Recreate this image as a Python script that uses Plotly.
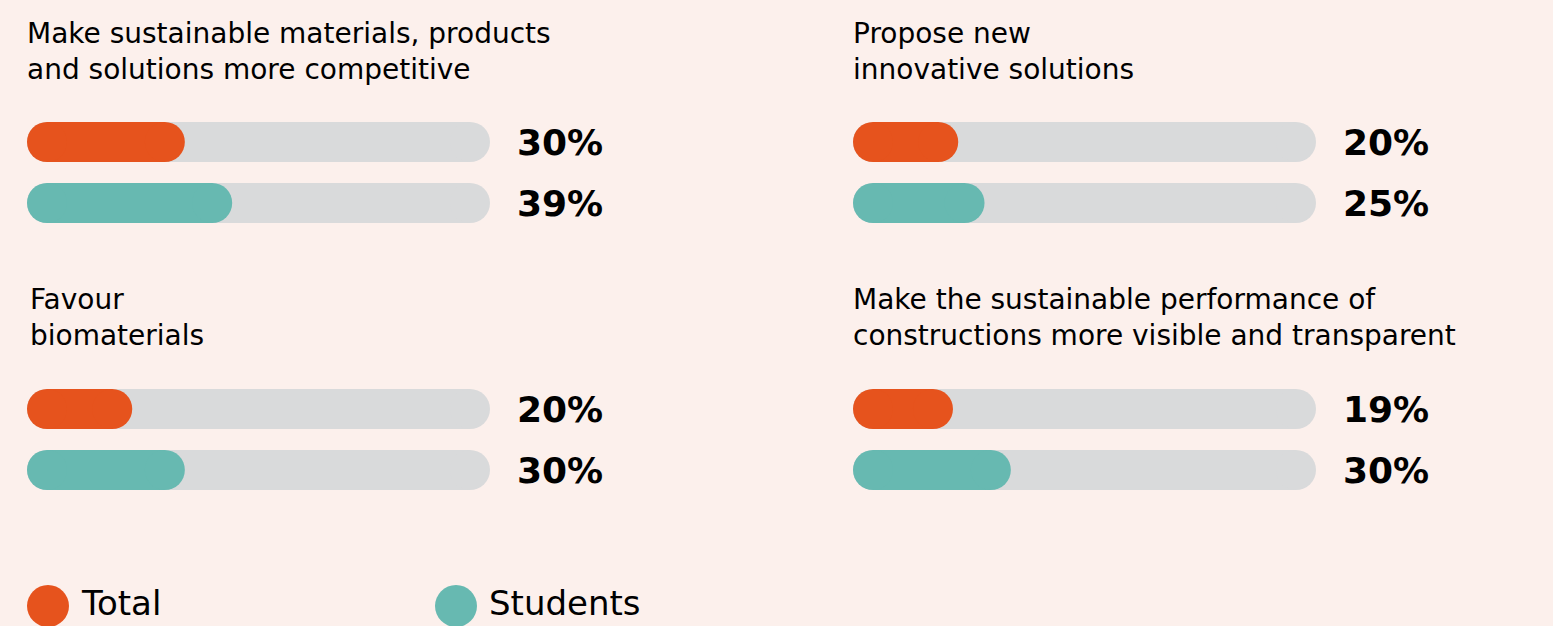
import plotly.graph_objects as go
from plotly.subplots import make_subplots

# data
titles = [
    "Make sustainable materials, products<br>and solutions more competitive",
    "Propose new<br>innovative solutions",
    "Favour<br>biomaterials",
    "Make the sustainable performance of<br>constructions more visible and transparent",
]
total = [30, 20, 20, 19]
students = [39, 25, 30, 30]
series_names = ["Total", "Students"]
track_max = 88  # length of the grey track, in % units

orange = "#E6531D"
teal = "#67B9B1"
grey = "#D9DADB"
bg = "#FCF0EC"
W, H = 1553, 626

fig = make_subplots(rows=2, cols=2)

# pixel layout of the panels (left x of track, top y of the bar block)
panel_x = [27, 853, 27, 853]
panel_y = [111.5, 111.5, 378.5, 378.5]
track_w = 463
block_h = 122
thick = 40
r = thick / 2 / track_w * track_max  # cap radius in data units


def pill(v, row, color):
    # rounded bar: thick line between the two cap centres + round caps
    return go.Scatter(x=[r, v - r], y=[row, row], mode="lines+markers",
                      line=dict(color=color, width=thick),
                      marker=dict(color=color, size=thick, line=dict(width=0)),
                      hoverinfo="skip", showlegend=False)


for i in range(4):
    rr, c = i // 2 + 1, i % 2 + 1
    fig.add_trace(pill(track_max, 0, grey), row=rr, col=c)
    fig.add_trace(pill(track_max, 1, grey), row=rr, col=c)
    fig.add_trace(pill(total[i], 0, orange), row=rr, col=c)
    fig.add_trace(pill(students[i], 1, teal), row=rr, col=c)

    x0 = panel_x[i] / W
    x1 = (panel_x[i] + track_w) / W
    y_top = 1 - panel_y[i] / H
    y_bot = 1 - (panel_y[i] + block_h) / H
    fig.update_xaxes(domain=[x0, x1], range=[0, track_max], visible=False, row=rr, col=c)
    fig.update_yaxes(domain=[y_bot, y_top], range=[1.5, -0.5], visible=False, row=rr, col=c)

    suffix = "" if i == 0 else str(i + 1)
    for j, v in enumerate([total[i], students[i]]):
        fig.add_annotation(x=track_max, y=j, xref="x" + suffix, yref="y" + suffix,
                           text=f"{v}%", showarrow=False, xanchor="left", yanchor="middle",
                           xshift=25, font=dict(family="DejaVu Sans", size=36,
                                                color="#000000", weight="bold"))

    # panel title (two lines)
    tx = panel_x[i] + (0 if i != 2 else 3)
    ty = 52 if i < 2 else 317
    fig.add_annotation(x=tx / W, y=1 - ty / H, xref="paper", yref="paper",
                       text=titles[i], showarrow=False, xanchor="left", yanchor="middle",
                       align="left", xshift=-2,
                       font=dict(family="DejaVu Sans", size=28, color="#000000"))

# legend swatches
legend_x = [48, 456]
legend_cols = [orange, teal]
for name, lx, col in zip(series_names, legend_x, legend_cols):
    fig.add_shape(type="circle", xref="paper", yref="paper",
                  x0=(lx - 21) / W, x1=(lx + 21) / W, y0=1 - 627 / H, y1=1 - 585 / H,
                  fillcolor=col, line=dict(width=0))
    fig.add_annotation(x=(lx + 31) / W, y=1 - 603 / H, xref="paper", yref="paper",
                       text=name, showarrow=False, xanchor="left", yanchor="middle",
                       font=dict(family="DejaVu Sans", size=34, color="#000000"))

fig.update_layout(
    width=W, height=H, margin=dict(l=0, r=0, t=0, b=0),
    paper_bgcolor=bg, plot_bgcolor=bg,
    showlegend=False,
)

fig.write_html("out.html", config={"displayModeBar": False},
               post_script="document.body.style.margin='0';")
